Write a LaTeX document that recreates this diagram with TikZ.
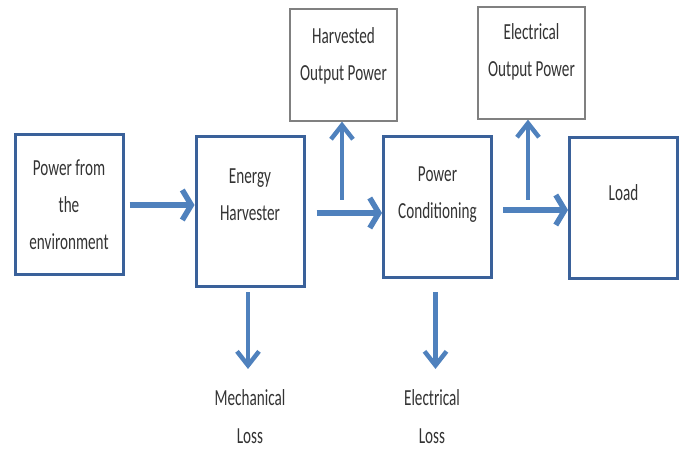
\documentclass[tikz,border=0pt]{standalone}
\usepackage{fontspec}
\setmainfont{Carlito}[FakeStretch=0.66]
\usepackage{xcolor}
\usepackage{tikz}
\usetikzlibrary{positioning,arrows.meta}
\definecolor{cborde}{HTML}{3A619A}
\definecolor{cflecha}{HTML}{4F81BD}
\definecolor{cgris}{HTML}{808080}
\definecolor{ctexto}{HTML}{333333}
\tikzset{
  bloque/.style={rectangle, draw=cborde, line width=3pt, align=center,
    minimum width=108pt, minimum height=140pt, inner sep=0pt, text=ctexto,
    font=\fontsize{23}{37}\selectfont},
  salida/.style={rectangle, draw=cgris, line width=1.2pt, align=center,
    minimum width=107pt, minimum height=112pt, inner sep=0pt, text=ctexto,
    font=\fontsize{23}{37}\selectfont},
  etq/.style={align=center, text=ctexto, font=\fontsize{23}{38}\selectfont},
  flechah/.style={draw=cflecha, line width=5.5pt,
    -{Straight Barb[length=9pt, width=30pt]}},
  flechav/.style={draw=cflecha, line width=4.5pt,
    -{Straight Barb[length=14pt, width=22pt]}},
}
\begin{document}
\begin{tikzpicture}[x=1pt, y=-1pt]
  \useasboundingbox (0,0) rectangle (681,449);
  % bloques principales
  \node[bloque] (amb) at (69,205) {Power from\\the\\environment};
  \node[bloque, minimum height=150pt, text depth=34pt] (cosecha) at (250,212) {Energy\\Harvester};
  \node[bloque, minimum height=141pt, text depth=30pt] (acond) at (437.5,207.5) {Power\\Conditioning};
  \node[bloque, minimum height=141pt, text depth=32pt] (carga) at (623.5,208.5) {Load};
  % salidas de potencia
  \node[salida, text depth=22pt] (psal) at (343.5,65) {Harvested\\Output Power};
  \node[salida, text depth=26pt] (esal) at (531.5,63) {Electrical\\Output Power};
  % perdidas
  \node[etq, anchor=north] (pmec) at (250,386) {Mechanical\\Loss};
  \node[etq, anchor=north] (pelec) at (432,386) {Electrical\\Loss};
  % flechas
  \coordinate (r1) at (342,213);
  \coordinate (r2) at (528,210);
  \draw[flechah] ([xshift=5pt]amb.east) -- (amb.east -| cosecha.west);
  \draw[flechah] ([xshift=11pt]cosecha.east |- r1) -- (r1 -| acond.west);
  \draw[flechah] ([xshift=10pt]acond.east |- r2) -- (r2 -| carga.west);
  \draw[flechav] ([yshift=13pt]r1) -- (r1 |- psal.south);
  \draw[flechav] ([yshift=10pt]r2) -- (r2 |- esal.south);
  \draw[flechav, shorten <=4pt, shorten >=17pt] ([xshift=-2pt]cosecha.south) -- ([xshift=-2pt]cosecha.south |- pmec.north);
  \draw[flechav, shorten <=13pt, shorten >=17pt] ([xshift=-2pt]acond.south) -- ([xshift=-2pt]acond.south |- pelec.north);
\end{tikzpicture}
\end{document}
